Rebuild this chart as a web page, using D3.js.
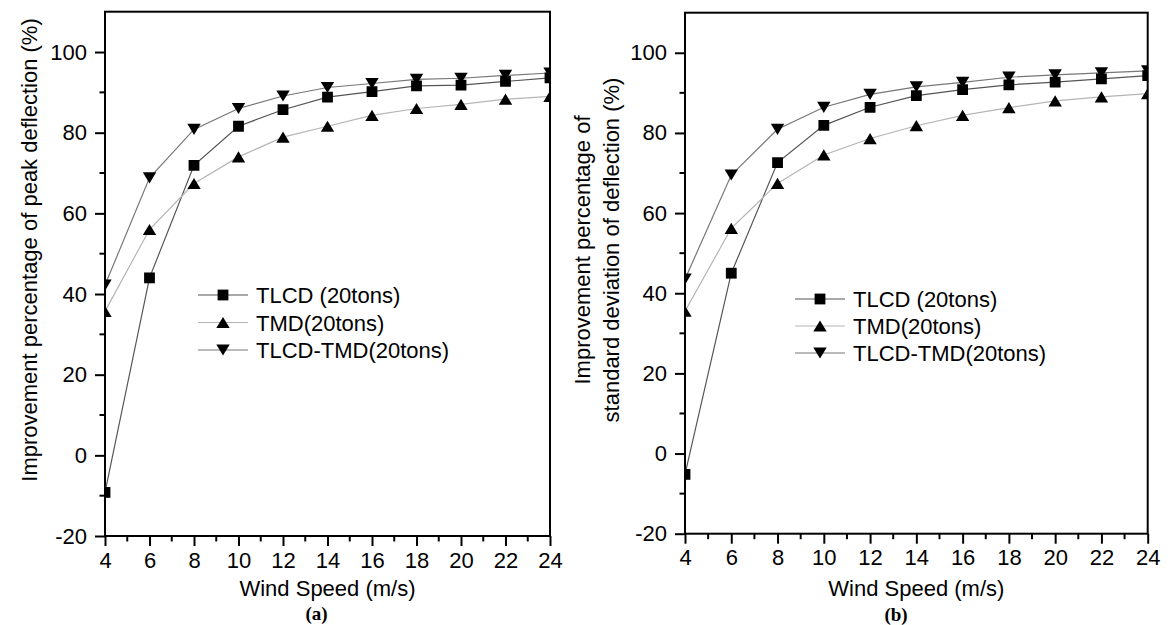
<!DOCTYPE html>
<html>
<head>
<meta charset="utf-8">
<script src="https://cdn.jsdelivr.net/npm/d3@7"></script>
<style>
  html, body { margin: 0; padding: 0; background: #fff; }
  svg { display: block; font-family: "Liberation Sans", Arial, sans-serif; }
</style>
</head>
<body>
<svg id="chart" width="1173" height="625"></svg>
<script>
// Wind speeds (m/s)
const windSpeed = [4, 6, 8, 10, 12, 14, 16, 18, 20, 22, 24];

// (a) improvement of peak deflection (%)
const peakTLCD   = [-9.2, 44.0, 71.9, 81.6, 85.7, 88.8, 90.2, 91.6, 91.8, 92.7, 93.6];
const peakTMD    = [35.7, 56.0, 67.4, 74.0, 78.9, 81.6, 84.3, 86.0, 87.0, 88.3, 89.0];
const peakHybrid = [42.2, 68.8, 80.8, 86.0, 89.1, 91.2, 92.2, 93.2, 93.5, 94.2, 94.8];

// (b) improvement of standard deviation of deflection (%)
const stdTLCD   = [-5.2, 45.0, 72.6, 81.9, 86.4, 89.3, 90.8, 92.0, 92.7, 93.5, 94.3];
const stdTMD    = [35.5, 56.2, 67.4, 74.5, 78.6, 81.8, 84.4, 86.3, 88.0, 89.0, 89.8];
const stdHybrid = [43.5, 69.5, 80.9, 86.4, 89.6, 91.5, 92.6, 93.9, 94.5, 95.0, 95.5];

const seriesNames = ["TLCD (20tons)", "TMD(20tons)", "TLCD-TMD(20tons)"];
const xTicks = [4, 6, 8, 10, 12, 14, 16, 18, 20, 22, 24];
const xMinorTicks = [5, 7, 9, 11, 13, 15, 17, 19, 21, 23];
const yTicks = [-20, 0, 20, 40, 60, 80, 100];
const yMinorTicks = [-10, 10, 30, 50, 70, 90];
const xDomain = [4, 24];
const yDomain = [-20, 110];

// marker shape and line colour for each series
const seriesStyle = [
  { marker: "square",   line: "#555" },
  { marker: "triangle", line: "#b5b5b5" },
  { marker: "down",     line: "#777" }
];

const panels = [
  {
    id: "a", label: "(a)",
    series: [peakTLCD, peakTMD, peakHybrid],
    box: { left: 105, right: 550, top: 11.7, bottom: 536 },
    yTitle: ["Improvement percentage of peak deflection (%)"],
    yTitleX: [37], yTitleY: 250,
    legend: { x: 198, y: 295, dy: 27.5 },
    labelX: 316.5, labelY: 620
  },
  {
    id: "b", label: "(b)",
    series: [stdTLCD, stdTMD, stdHybrid],
    box: { left: 685, right: 1147.7, top: 12.7, bottom: 533.7 },
    yTitle: ["Improvement percentage of", "standard deviation of deflection (%)"],
    yTitleX: [590, 619], yTitleY: 250,
    legend: { x: 795, y: 299, dy: 27 },
    labelX: 896, labelY: 621
  }
];

function markerPath(type) {
  if (type === "square") {
    const s = 5.4;
    return `M${-s},${-s}H${s}V${s}H${-s}Z`;
  }
  const w = 6.7, h = 5.6;
  if (type === "triangle") return `M0,${-h}L${w},${h}L${-w},${h}Z`;
  return `M0,${h}L${w},${-h}L${-w},${-h}Z`;
}

// plain integer labels with an ASCII hyphen for negatives
const intLabel = d => String(d);

const svg = d3.select("#chart");

panels.forEach(p => {
  const b = p.box;
  const x = d3.scaleLinear().domain(xDomain).range([b.left, b.right]);
  const y = d3.scaleLinear().domain(yDomain).range([b.bottom, b.top]);
  const g = svg.append("g");

  // clip to the plotting area
  g.append("clipPath").attr("id", "clip-" + p.id)
    .append("rect")
    .attr("x", b.left).attr("y", b.top)
    .attr("width", b.right - b.left).attr("height", b.bottom - b.top);

  // x axis (bottom)
  const xAxis = g.append("g").attr("transform", `translate(0,${b.bottom})`)
    .call(d3.axisBottom(x).tickValues(xTicks).tickSize(10).tickPadding(6).tickFormat(intLabel));
  xAxis.append("g").selectAll("line").data(xMinorTicks).join("line")
    .attr("x1", d => x(d)).attr("x2", d => x(d)).attr("y1", 0).attr("y2", 5.5)
    .attr("stroke", "#000").attr("stroke-width", 2);

  // y axis (left)
  const yAxis = g.append("g").attr("transform", `translate(${b.left},0)`)
    .call(d3.axisLeft(y).tickValues(yTicks).tickSize(10).tickPadding(8).tickFormat(intLabel));
  yAxis.append("g").selectAll("line").data(yMinorTicks).join("line")
    .attr("y1", d => y(d)).attr("y2", d => y(d)).attr("x1", 0).attr("x2", -5.5)
    .attr("stroke", "#000").attr("stroke-width", 2);

  [xAxis, yAxis].forEach(a => {
    a.select(".domain").remove();
    a.selectAll(".tick line").attr("stroke", "#000").attr("stroke-width", 2);
    a.selectAll(".tick text").attr("fill", "#000").style("font-size", "22px")
      .style("font-family", "'Liberation Sans', Arial, sans-serif");
  });
  xAxis.selectAll(".tick text").attr("dy", "0.71em");

  // frame
  g.append("rect")
    .attr("x", b.left).attr("y", b.top)
    .attr("width", b.right - b.left).attr("height", b.bottom - b.top)
    .attr("fill", "none").attr("stroke", "#000").attr("stroke-width", 2);

  // series
  const plot = g.append("g").attr("clip-path", `url(#clip-${p.id})`);
  const line = d3.line().x(d => x(d[0])).y(d => y(d[1]));
  p.series.forEach((vals, i) => {
    const pts = windSpeed.map((w, k) => [w, vals[k]]);
    plot.append("path").datum(pts)
      .attr("d", line).attr("fill", "none")
      .attr("stroke", seriesStyle[i].line).attr("stroke-width", 1.2);
  });
  p.series.forEach((vals, i) => {
    plot.append("g").selectAll("path")
      .data(windSpeed.map((w, k) => [w, vals[k]]))
      .join("path")
      .attr("transform", d => `translate(${x(d[0])},${y(d[1])})`)
      .attr("d", markerPath(seriesStyle[i].marker))
      .attr("fill", "#000");
  });

  // axis titles
  g.append("text")
    .attr("x", (b.left + b.right) / 2).attr("y", 596)
    .attr("text-anchor", "middle").style("font-size", "22px")
    .text("Wind Speed (m/s)");
  p.yTitle.forEach((t, k) => {
    g.append("text")
      .attr("transform", `translate(${p.yTitleX[k]},${p.yTitleY}) rotate(-90)`)
      .attr("text-anchor", "middle").style("font-size", "22px")
      .text(t);
  });

  // panel label
  g.append("text")
    .attr("x", p.labelX).attr("y", p.labelY)
    .attr("text-anchor", "middle")
    .style("font-family", "'Liberation Serif', 'Times New Roman', serif")
    .style("font-weight", "bold").style("font-size", "19px")
    .text(p.label);

  // legend
  const lg = g.append("g");
  seriesNames.forEach((name, i) => {
    const ly = p.legend.y + i * p.legend.dy;
    lg.append("line")
      .attr("x1", p.legend.x).attr("x2", p.legend.x + 50)
      .attr("y1", ly).attr("y2", ly)
      .attr("stroke", seriesStyle[i].line).attr("stroke-width", 1.2);
    lg.append("path")
      .attr("transform", `translate(${p.legend.x + 25},${ly})`)
      .attr("d", markerPath(seriesStyle[i].marker))
      .attr("fill", "#000");
    lg.append("text")
      .attr("x", p.legend.x + 58).attr("y", ly + 8)
      .style("font-size", "22px")
      .text(name);
  });
});
</script>
</body>
</html>
